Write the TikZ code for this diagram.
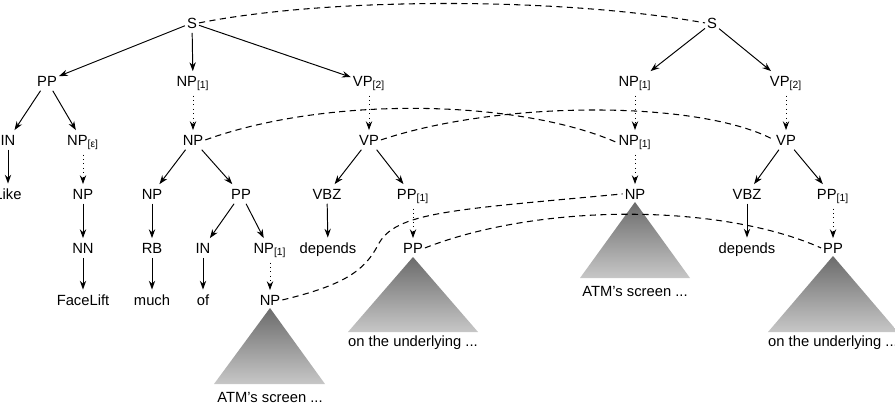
\documentclass[tikz,border=0pt]{standalone}
\usepackage{fontspec}
\setmainfont{Liberation Sans}
\usetikzlibrary{arrows.meta}

\tikzset{
  cat/.style={anchor=base,inner xsep=1pt,inner ysep=2.5pt},
  dom/.style={->,line width=0.55pt},
  emb/.style={->,line width=0.55pt,dotted},
  lnk/.style={line width=0.6pt,dash pattern=on 3.5pt off 2.5pt},
  tri/.style={top color=black!58,bottom color=black!22}
}

\begin{document}
\begin{tikzpicture}[>={Stealth[length=5pt,width=3.6pt]},x=0.02cm,y=-0.02cm,font=\fontsize{8.4}{10}\selectfont]
  \useasboundingbox (0,0) rectangle (895,416);

  % left tree
  \node[cat] (sL)    at (192,28)  {S};
  \node[cat] (ppL)   at (47,86)   {PP};
  \node[cat] (np1L)  at (193,86)  {NP\textsubscript{[1]}};
  \node[cat] (vp2L)  at (369,86)  {VP\textsubscript{[2]}};
  \node[cat] (inL)   at (8,145)   {IN};
  \node[cat] (npeL)  at (83,145)  {NP\textsubscript{[ε]}};
  \node[cat] (npL)   at (193,145) {NP};
  \node[cat] (vpL)   at (369,145) {VP};
  \node[cat] (likeL) at (8,199)   {Like};
  \node[cat] (npaL)  at (83,199)  {NP};
  \node[cat] (npbL)  at (152,199) {NP};
  \node[cat] (ppbL)  at (241,199) {PP};
  \node[cat] (vbzL)  at (327,199) {VBZ};
  \node[cat] (pp1L)  at (413,199) {PP\textsubscript{[1]}};
  \node[cat] (nnL)   at (83,253)  {NN};
  \node[cat] (rbL)   at (152,253) {RB};
  \node[cat] (incL)  at (203,253) {IN};
  \node[cat] (np1bL) at (270,253) {NP\textsubscript{[1]}};
  \node[cat] (depL)  at (328,253) {depends};
  \node[cat] (ppcL)  at (413,253) {PP};
  \node[cat] (faceL) at (83,305)  {FaceLift};
  \node[cat] (muchL) at (152,305) {much};
  \node[cat] (ofL)   at (203,305) {of};
  \node[cat] (npcL)  at (270,305) {NP};

  \draw[dom] (sL) -- (ppL);
  \draw[dom] (sL) -- (np1L);
  \draw[dom] (sL) -- (vp2L);
  \draw[dom] (ppL) -- (inL);
  \draw[dom] (ppL) -- (npeL);
  \draw[dom] (npL) -- (npbL);
  \draw[dom] (npL) -- (ppbL);
  \draw[dom] (vpL) -- (vbzL);
  \draw[dom] (vpL) -- (pp1L);
  \draw[dom] (inL) -- (likeL);
  \draw[dom] (npaL) -- (nnL);
  \draw[dom] (nnL) -- (faceL);
  \draw[dom] (npbL) -- (rbL);
  \draw[dom] (rbL) -- (muchL);
  \draw[dom] (ppbL) -- (incL);
  \draw[dom] (ppbL) -- (np1bL);
  \draw[dom] (incL) -- (ofL);
  \draw[dom] (vbzL) -- (depL);
  \draw[emb] (np1L) -- (npL);
  \draw[emb] (vp2L) -- (vpL);
  \draw[emb] (npeL) -- (npaL);
  \draw[emb] (np1bL) -- (npcL);
  \draw[emb] (pp1L) -- (ppcL);

  \shade[tri] (270,308) -- (325,384) -- (214,384) -- cycle;
  \node[cat] (atmL) at (270,402) {ATM's screen ...};
  \shade[tri] (413,257) -- (478,332) -- (348,332) -- cycle;
  \node[cat] (undL) at (413,346) {on the underlying ...};

  % right tree
  \node[cat] (sR)    at (712,28)  {S};
  \node[cat] (np1R)  at (635,86)  {NP\textsubscript{[1]}};
  \node[cat] (vp2R)  at (786,86)  {VP\textsubscript{[2]}};
  \node[cat] (np1bR) at (635,145) {NP\textsubscript{[1]}};
  \node[cat] (vpR)   at (786,145) {VP};
  \node[cat] (npR)   at (635,199) {NP};
  \node[cat] (vbzR)  at (747,199) {VBZ};
  \node[cat] (pp1R)  at (833,199) {PP\textsubscript{[1]}};
  \node[cat] (depR)  at (747,253) {depends};
  \node[cat] (ppR)   at (833,253) {PP};

  \draw[dom] (sR) -- (np1R);
  \draw[dom] (sR) -- (vp2R);
  \draw[dom] (vpR) -- (vbzR);
  \draw[dom] (vpR) -- (pp1R);
  \draw[dom] (vbzR) -- (depR);
  \draw[emb] (np1R) -- (np1bR);
  \draw[emb] (np1bR) -- (npR);
  \draw[emb] (vp2R) -- (vpR);
  \draw[emb] (pp1R) -- (ppR);

  \shade[tri] (635,202) -- (690,278) -- (580,278) -- cycle;
  \node[cat] (atmR) at (635,296) {ATM's screen ...};
  \shade[tri] (833,256) -- (898,332) -- (768,332) -- cycle;
  \node[cat] (undR) at (833,346) {on the underlying ...};

  % alignment links
  \draw[lnk] (sL.east) .. controls (330,-3) and (560,-3) .. (sR.west);
  \draw[lnk] (npL.east) .. controls (330,95) and (520,100) .. (np1bR.west);
  \draw[lnk] (vpL.east) .. controls (500,100) and (700,100) .. (vpR.west);
  \draw[lnk] (npcL.east) .. controls (345,285) and (365,270) .. (378,245)
             .. controls (395,212) and (450,210) .. (npR.west);
  \draw[lnk] (ppcL.east) .. controls (540,203) and (720,203) .. (ppR.west);
\end{tikzpicture}
\end{document}
